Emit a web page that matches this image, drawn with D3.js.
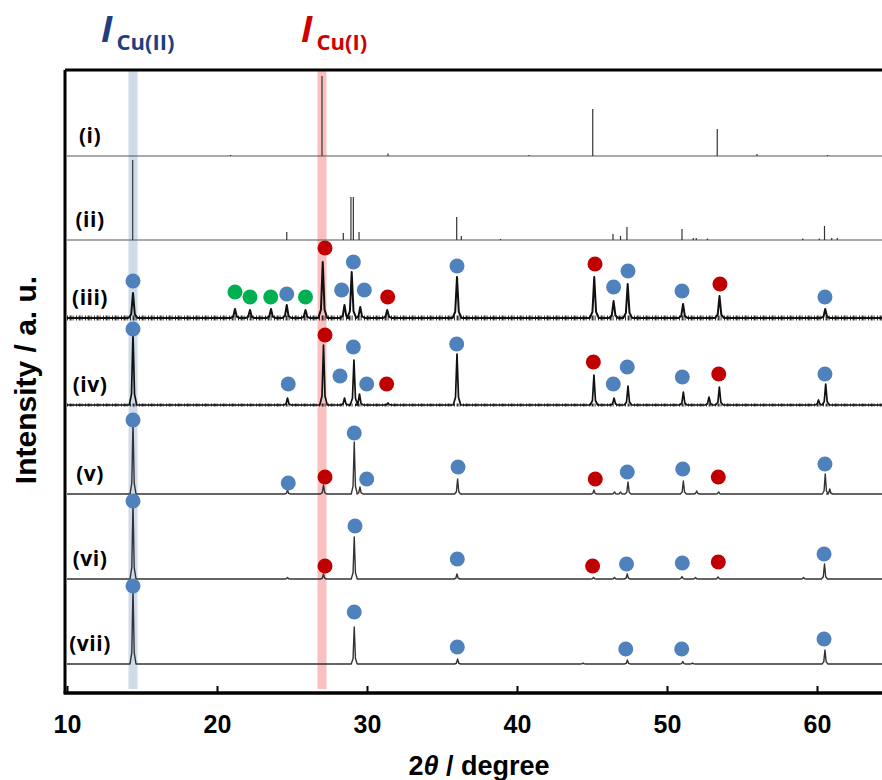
<!DOCTYPE html>
<html>
<head>
<meta charset="utf-8">
<script src="https://cdn.jsdelivr.net/npm/d3@7"></script>
<style>
  body { margin: 0; background: #fff; }
  svg { display: block; }
</style>
</head>
<body>
<div id="chart"></div>
<script>
// pattern labels and vertical offsets (a.u.)
const patternLabels = ['(i)', '(ii)', '(iii)', '(iv)', '(v)', '(vi)', '(vii)'];
const patternOffsets = [537, 453, 375, 288, 199, 114, 29];

// reference stick patterns: [2theta, intensity]
const sticksI = [[20.9, 1], [27.0, 80], [31.4, 2.5], [40.8, 1], [45.05, 47], [53.35, 27], [56.0, 2], [60.7, 1]];
const sticksII = [[14.38, 80], [24.65, 8], [28.42, 7], [28.93, 43], [29.09, 43], [29.47, 8], [35.98, 23], [36.29, 4],
  [38.9, 1], [46.4, 6], [46.9, 4], [47.33, 13], [51.0, 11], [51.75, 2], [51.95, 2], [52.7, 1.5], [59.05, 1.5],
  [60.15, 1.5], [60.5, 14], [60.98, 2], [61.35, 2]];

// measured patterns: peak [2theta, intensity]
const peaksIII = [[14.4, 25], [21.2, 9], [22.2, 8], [23.6, 9], [24.65, 13], [25.9, 8], [27.05, 56], [28.5, 13],
  [28.98, 46], [29.55, 11], [31.35, 8], [36.0, 41], [45.15, 41], [46.44, 17], [47.38, 34], [51.07, 14],
  [53.5, 22], [60.55, 9]];
const peaksIV = [[14.4, 72], [24.7, 7], [27.1, 60], [28.5, 7], [29.13, 45], [29.5, 11], [31.4, 2], [36.0, 51],
  [45.13, 30], [46.47, 7], [47.4, 19], [51.09, 13], [52.8, 8], [53.49, 18], [60.1, 5], [60.58, 21]];
const peaksV = [[14.4, 72], [24.7, 4], [27.1, 9], [29.15, 52], [29.53, 7], [36.04, 15], [45.13, 4], [46.5, 2],
  [46.9, 2], [47.4, 12], [51.09, 13], [51.98, 3], [53.44, 2], [60.55, 20], [60.85, 5]];
const peaksVI = [[14.4, 76], [24.7, 1.5], [27.1, 5], [29.15, 42], [36.0, 5], [45.1, 1.5], [46.5, 1.5], [47.35, 5],
  [51.0, 2.5], [51.9, 1.5], [53.4, 2], [59.1, 1.5], [60.5, 15]];
const peaksVII = [[14.4, 76], [29.15, 37], [36.04, 5], [44.4, 1], [47.36, 4], [51.05, 2.5], [51.7, 1], [60.53, 14]];

// phase markers: [2theta, height above baseline, phase]
const marksIII = [[14.4, 37, 'b'], [21.2, 26, 'g'], [22.2, 21, 'g'], [23.58, 21, 'g'], [24.65, 24, 'b'], [25.9, 21, 'g'],
  [27.2, 70, 'r'], [28.31, 28, 'b'], [29.09, 56, 'b'], [29.82, 28, 'b'], [31.38, 21, 'r'], [36.0, 52, 'b'],
  [45.2, 54, 'r'], [46.44, 31, 'b'], [47.4, 47, 'b'], [51.0, 27, 'b'], [53.53, 34, 'r'], [60.53, 21, 'b']];
const marksIV = [[14.4, 76, 'b'], [24.75, 21, 'b'], [27.2, 70, 'r'], [28.2, 29, 'b'], [29.09, 58, 'b'], [29.98, 21, 'b'],
  [31.31, 21, 'r'], [35.98, 61, 'b'], [45.09, 43, 'r'], [46.42, 21, 'b'], [47.35, 38, 'b'], [51.02, 28, 'b'],
  [53.45, 31, 'r'], [60.53, 31, 'b']];
const marksV = [[14.4, 74, 'b'], [24.75, 11, 'b'], [27.2, 17, 'r'], [29.15, 61, 'b'], [29.98, 15, 'b'], [36.07, 27, 'b'],
  [45.22, 15, 'r'], [47.35, 22, 'b'], [51.05, 25, 'b'], [53.42, 17, 'r'], [60.53, 30, 'b']];
const marksVI = [[14.4, 78, 'b'], [27.2, 13, 'r'], [29.2, 53, 'b'], [36.02, 20, 'b'], [45.04, 13, 'r'], [47.3, 15, 'b'],
  [51.02, 16, 'b'], [53.42, 17, 'r'], [60.47, 25, 'b']];
const marksVII = [[14.4, 78, 'b'], [29.15, 52, 'b'], [36.02, 17, 'b'], [47.25, 15, 'b'], [50.98, 15, 'b'], [60.47, 25, 'b']];

// highlighted reflections
const bandCuII = 14.4;
const bandCuI = 27.0;
const xTicks = [10, 20, 30, 40, 50, 60];

const [svgWidth, svgHeight] = [882, 780];
const plot = { left: 65, top: 70, bottom: 693 };

const svg = d3.select('#chart').append('svg')
  .attr('width', svgWidth)
  .attr('height', svgHeight)
  .style('font-family', 'Liberation Sans, Arial, sans-serif');

const xScale = d3.scaleLinear().domain([10, 70]).range([67, 967]);
const yScale = d3.scaleLinear().domain([0, 623]).range([plot.bottom, plot.top]);

const phaseColor = { b: '#4f81bd', r: '#c00000', g: '#00b050' };

// highlight bands
const bandHalf = 4.5;
svg.append('rect')
  .attr('x', xScale(bandCuII) - bandHalf).attr('y', plot.top)
  .attr('width', bandHalf * 2).attr('height', plot.bottom - plot.top - 4)
  .attr('fill', '#cfdbe8');
svg.append('rect')
  .attr('x', xScale(bandCuI) - bandHalf).attr('y', plot.top)
  .attr('width', bandHalf * 2).attr('height', plot.bottom - plot.top - 4)
  .attr('fill', '#fac0c0');

// stick patterns
function drawSticks(sticks, offset) {
  const g = svg.append('g');
  g.append('line')
    .attr('x1', xScale(10)).attr('x2', xScale(70))
    .attr('y1', yScale(offset)).attr('y2', yScale(offset))
    .attr('stroke', '#555').attr('stroke-width', 1);
  g.selectAll('.stick')
    .data(sticks)
    .enter().append('line')
    .attr('class', 'stick')
    .attr('x1', d => xScale(d[0])).attr('x2', d => xScale(d[0]))
    .attr('y1', yScale(offset)).attr('y2', d => yScale(offset + d[1]))
    .attr('stroke', '#333').attr('stroke-width', 1.2);
}
drawSticks(sticksI, patternOffsets[0]);
drawSticks(sticksII, patternOffsets[1]);

// measured profiles, each peak drawn as a narrow spike on a flat baseline
const line = d3.line()
  .x(d => xScale(d[0]))
  .y(d => yScale(d[1]));

function profilePoints(peaks, offset, w) {
  const pts = [[10, offset]];
  peaks.forEach(p => {
    pts.push([p[0] - 2.5 * w, offset]);
    pts.push([p[0] - w, offset + p[1] * 0.15]);
    pts.push([p[0], offset + p[1]]);
    pts.push([p[0] + w, offset + p[1] * 0.15]);
    pts.push([p[0] + 2.5 * w, offset]);
  });
  pts.push([70, offset]);
  return pts;
}

// fuzz = width of the noisy baseline band in px (0 for the clean scans)
const profiles = [
  { peaks: peaksIII, idx: 2, w: 0.12, stroke: '#111', sw: 2, fuzz: 5 },
  { peaks: peaksIV, idx: 3, w: 0.1, stroke: '#111', sw: 1.7, fuzz: 3.2 },
  { peaks: peaksV, idx: 4, w: 0.08, stroke: '#333', sw: 1.4, fuzz: 0 },
  { peaks: peaksVI, idx: 5, w: 0.08, stroke: '#333', sw: 1.4, fuzz: 0 },
  { peaks: peaksVII, idx: 6, w: 0.08, stroke: '#333', sw: 1.4, fuzz: 0 }
];
profiles.forEach(p => {
  const off = patternOffsets[p.idx];
  if (p.fuzz) {
    svg.append('line')
      .attr('x1', xScale(10)).attr('x2', xScale(70))
      .attr('y1', yScale(off)).attr('y2', yScale(off))
      .attr('stroke', '#111')
      .attr('stroke-width', p.fuzz)
      .attr('stroke-dasharray', '1 1.6 2 1 1 2.4')
      .attr('opacity', 0.85);
  }
  svg.append('path')
    .datum(profilePoints(p.peaks, off, p.w))
    .attr('d', line)
    .attr('fill', 'none')
    .attr('stroke', p.stroke)
    .attr('stroke-width', p.sw)
    .attr('stroke-linejoin', 'round');
});

// phase markers
const markSets = [[marksIII, 2], [marksIV, 3], [marksV, 4], [marksVI, 5], [marksVII, 6]];
markSets.forEach(([marks, idx]) => {
  svg.append('g').selectAll('circle')
    .data(marks)
    .enter().append('circle')
    .attr('cx', d => xScale(d[0]))
    .attr('cy', d => yScale(patternOffsets[idx] + d[1]))
    .attr('r', 7.5)
    .attr('fill', d => phaseColor[d[2]]);
});

// pattern labels
svg.append('g').selectAll('text')
  .data(patternLabels)
  .enter().append('text')
  .attr('x', 90)
  .attr('y', (d, i) => yScale(patternOffsets[i]) - 13)
  .attr('text-anchor', 'middle')
  .style('font-family', 'Open Sans, sans-serif')
  .style('font-weight', 'bold')
  .style('font-size', '21px')
  .style('letter-spacing', '0.5px')
  .attr('fill', '#000')
  .text(d => d);

// frame
svg.append('line')
  .attr('x1', plot.left).attr('x2', svgWidth)
  .attr('y1', plot.top).attr('y2', plot.top)
  .attr('stroke', '#000').attr('stroke-width', 3);
svg.append('line')
  .attr('x1', plot.left).attr('x2', plot.left)
  .attr('y1', plot.top).attr('y2', plot.bottom)
  .attr('stroke', '#000').attr('stroke-width', 3);

// x axis
const xAxis = svg.append('g')
  .attr('transform', 'translate(0,' + plot.bottom + ')')
  .call(d3.axisBottom(xScale).tickValues(xTicks).tickFormat(d3.format('d'))
    .tickSizeInner(-7).tickSizeOuter(0).tickPadding(22));
xAxis.select('.domain').attr('stroke', '#000').attr('stroke-width', 3.5)
  .attr('d', 'M' + (plot.left - 1.5) + ',0H' + svgWidth);
xAxis.selectAll('.tick line').attr('stroke', '#000').attr('stroke-width', 2);
xAxis.selectAll('.tick text')
  .attr('fill', '#000')
  .style('font-family', 'Liberation Sans, Arial, sans-serif')
  .style('font-weight', 'bold')
  .style('font-size', '25px');

// axis titles
const xTitle = svg.append('text')
  .attr('x', 479).attr('y', 775)
  .attr('text-anchor', 'middle')
  .style('font-weight', 'bold')
  .style('font-size', '27px');
xTitle.append('tspan').text('2');
xTitle.append('tspan').style('font-style', 'italic').text('θ');
xTitle.append('tspan').text(' / degree');

svg.append('text')
  .attr('transform', 'translate(36,380) rotate(-90)')
  .attr('text-anchor', 'middle')
  .style('font-weight', 'bold')
  .style('font-size', '30px')
  .text('Intensity / a. u.');

// band labels
function bandLabel(x, sub, color) {
  const t = svg.append('text')
    .attr('x', x).attr('y', 42)
    .attr('fill', color)
    .style('font-family', 'Open Sans, sans-serif')
    .style('font-weight', 'bold');
  t.append('tspan').style('font-style', 'italic').style('font-size', '36px').text('I');
  t.append('tspan').attr('dx', 4).attr('dy', 8).style('font-size', '22px').text(sub);
}
bandLabel(101, 'Cu(II)', '#1f3f7f');
bandLabel(301, 'Cu(I)', '#d00000');
</script>
</body>
</html>
